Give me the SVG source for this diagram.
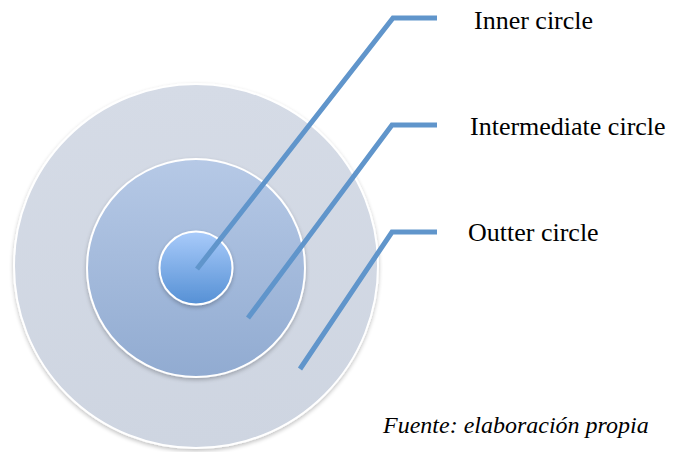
<svg xmlns="http://www.w3.org/2000/svg" width="673" height="452" viewBox="0 0 673 452">
  <defs>
    <linearGradient id="gOuter" x1="0" y1="0" x2="0" y2="1">
      <stop offset="0" stop-color="#d5dbe6"/>
      <stop offset="1" stop-color="#ced5e1"/>
    </linearGradient>
    <linearGradient id="gMid" x1="0" y1="0" x2="0" y2="1">
      <stop offset="0" stop-color="#b6c9e6"/>
      <stop offset="1" stop-color="#91abd1"/>
    </linearGradient>
    <linearGradient id="gInner" x1="0" y1="0" x2="0" y2="1">
      <stop offset="0" stop-color="#a9cbfa"/>
      <stop offset="1" stop-color="#5590d5"/>
    </linearGradient>
    <filter id="shadow" x="-20%" y="-20%" width="140%" height="140%">
      <feGaussianBlur in="SourceAlpha" stdDeviation="2"/>
      <feOffset dx="0" dy="1.5" result="b"/>
      <feComponentTransfer><feFuncA type="linear" slope="0.25"/></feComponentTransfer>
      <feMerge><feMergeNode/><feMergeNode in="SourceGraphic"/></feMerge>
    </filter>
  </defs>
  <style>
    .ring { stroke: #ffffff; stroke-width: 2; filter: url(#shadow); }
    .leader { fill: none; stroke: #6095cb; stroke-width: 5; stroke-linejoin: miter; }
    .label { font-family: "Liberation Serif", "Times New Roman", serif; font-size: 26px; fill: #000; }
    .note { font-family: "Liberation Serif", "Times New Roman", serif; font-size: 24px; font-style: italic; fill: #000; }
  </style>

  <rect width="673" height="452" fill="#ffffff"/>

  <g id="outer-circle">
    <circle class="ring" cx="196" cy="266" r="182" fill="url(#gOuter)"/>
  </g>
  <g id="intermediate-circle">
    <circle class="ring" cx="196" cy="268" r="109" fill="url(#gMid)"/>
  </g>
  <g id="inner-circle">
    <circle class="ring" cx="196" cy="268" r="36.5" fill="url(#gInner)"/>
  </g>

  <g id="connectors">
    <polyline class="leader" points="197,269 393,18 437,18"/>
    <polyline class="leader" points="248,318 392,125 437,125"/>
    <polyline class="leader" points="300,369 392,232 437,232"/>
  </g>

  <g id="labels">
    <text class="label" x="474" y="29">Inner circle</text>
    <text class="label" x="470" y="135">Intermediate circle</text>
    <text class="label" x="468" y="241">Outter circle</text>
    <text class="note" x="383" y="433">Fuente: elaboración propia</text>
  </g>
</svg>
